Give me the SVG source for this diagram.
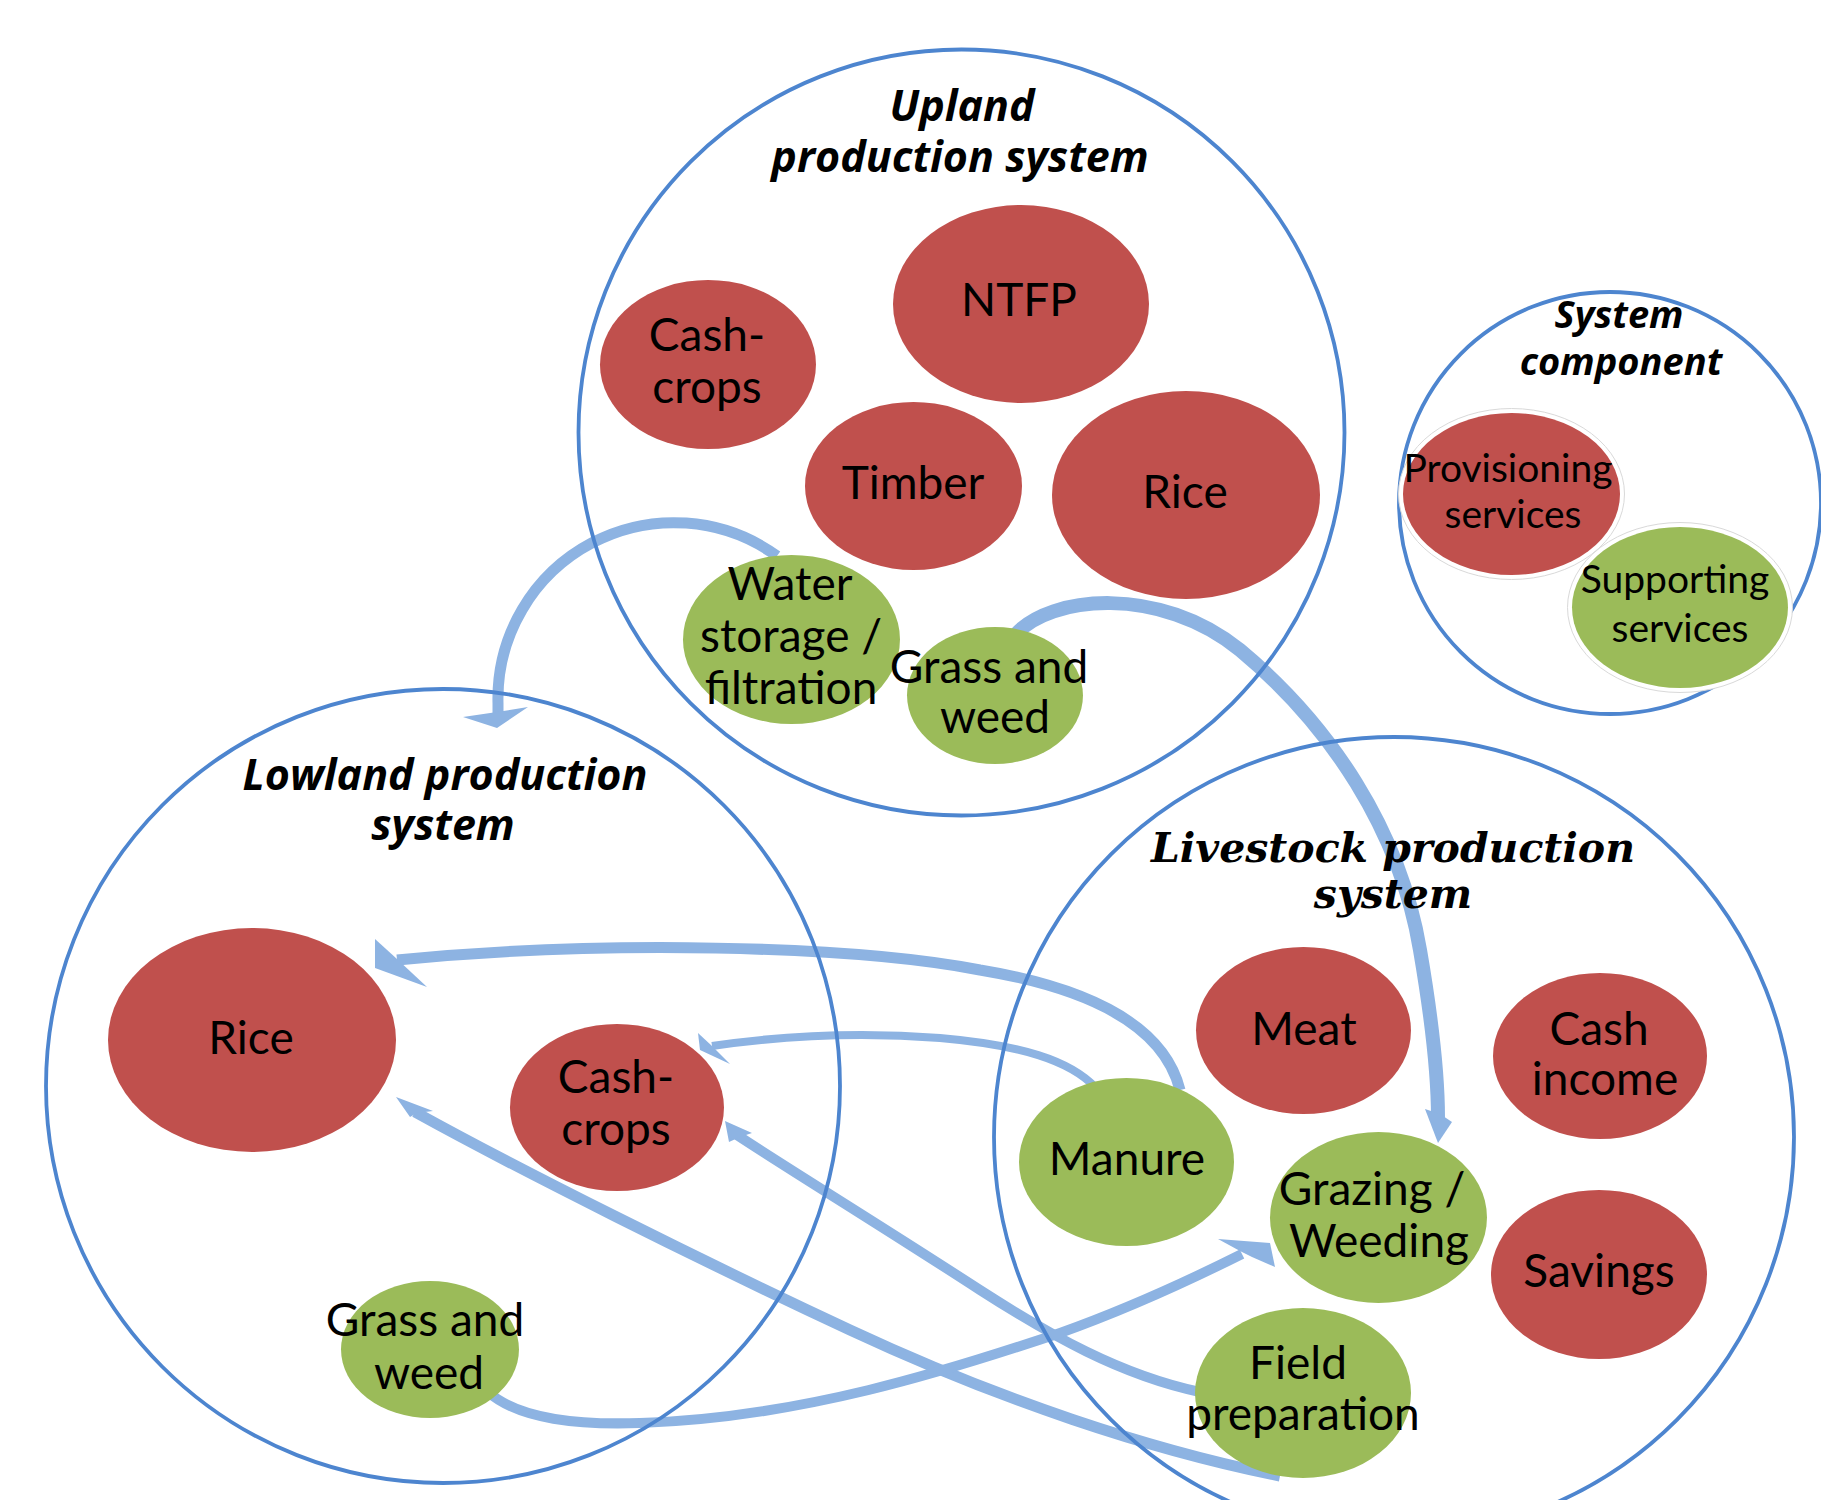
<svg xmlns="http://www.w3.org/2000/svg" width="1821" height="1500" viewBox="0 0 1821 1500">
<style>
.sys{fill:none;stroke:#4d85cf;stroke-width:3.8}
.red{fill:#c0504d}
.green{fill:#9bbb59}
.ring{fill:#fff;stroke:#d9d9d9;stroke-width:1}
.lbl{font-family:Lato,"Open Sans",sans-serif;font-size:46px;fill:#000;text-anchor:middle}
.lbls{font-family:Lato,"Open Sans",sans-serif;font-size:39px;fill:#000;text-anchor:middle}
.ttl{font-family:"Open Sans",Lato,sans-serif;font-weight:bold;font-style:italic;font-size:43px;fill:#000;text-anchor:middle}
.ttls{font-family:"Open Sans",Lato,sans-serif;font-weight:bold;font-style:italic;font-size:38px;fill:#000;text-anchor:middle}
.ttlserif{font-family:"DejaVu Serif","Liberation Serif",serif;font-weight:bold;font-style:italic;font-size:41px;fill:#000;text-anchor:middle}
.con{fill:none;stroke:#8db3e2;stroke-linecap:butt}
.head{fill:#8db3e2}
</style>
<rect width="1821" height="1500" fill="#fff"/>
<g id="connectors">
<path class="con" stroke-width="11" d="M777,556 A176,176 0 0 0 498,703 L498,714"/>
<polygon class="head" points="463,717 497,728 528,707 497,712"/>
<path class="con" stroke-width="14" d="M1015,635 C1050,595 1160,585 1240,650 C1330,725 1400,830 1420,950 C1432,1020 1438,1080 1438,1118"/>
<polygon class="head" points="1425,1109 1438,1143 1452,1122 1440,1114"/>
<path class="con" stroke-width="11" d="M1180,1090 C1165,1030 1100,990 980,970 C850,945 600,940 397,960"/>
<polygon class="head" points="375,939 375,968 427,987 397,959"/>
<path class="con" stroke-width="8" d="M1096,1088 C1070,1060 1020,1045 940,1038 C860,1032 780,1036 712,1046"/>
<polygon class="head" points="698,1033 700,1050 730,1064 712,1046"/>
<path class="con" stroke-width="10" d="M1200,1392 C1120,1375 1050,1335 980,1290 C880,1225 790,1170 737,1135"/>
<polygon class="head" points="725,1121 752,1133 740,1137 729,1142"/>
<path class="con" stroke-width="11" d="M1280,1476 C1150,1450 1000,1400 850,1330 C700,1260 520,1170 415,1112"/>
<polygon class="head" points="396,1097 433,1111 417,1113 410,1117"/>
<path class="con" stroke-width="10" d="M488,1392 C520,1420 580,1425 640,1423 C800,1418 950,1370 1060,1333 C1130,1308 1190,1280 1242,1254"/>
<polygon class="head" points="1218,1239 1270,1243 1275,1267 1252,1257 1240,1251"/>
</g>
<g id="systems">
<circle id="upland-system" class="sys" cx="961.5" cy="432.5" r="383"/>
<circle id="component-system" class="sys" cx="1610" cy="503" r="211"/>
<circle id="lowland-system" class="sys" cx="443" cy="1086" r="397"/>
<circle id="livestock-system" class="sys" cx="1394" cy="1137" r="400"/>
</g>
<g id="titles">
<text class="ttl" x="962" y="121">Upland</text>
<text class="ttl" x="960" y="172">production system</text>
<text class="ttls" x="1619" y="328">System</text>
<text class="ttls" x="1621" y="375">component</text>
<text class="ttl" x="445" y="790">Lowland production</text>
<text class="ttl" x="443" y="840">system</text>
</g>
<g id="upland-cashcrops"><ellipse class="red" cx="708" cy="364.5" rx="108" ry="84.5"/><text class="lbl" x="707" y="351">Cash-</text><text class="lbl" x="707" y="403">crops</text></g>
<g id="upland-ntfp"><ellipse class="red" cx="1021" cy="304" rx="128" ry="99"/><text class="lbl" x="1019" y="316">NTFP</text></g>
<g id="upland-timber"><ellipse class="red" cx="913.5" cy="486" rx="108.5" ry="84"/><text class="lbl" x="913" y="499">Timber</text></g>
<g id="upland-rice"><ellipse class="red" cx="1186" cy="495" rx="134" ry="104"/><text class="lbl" x="1185" y="508">Rice</text></g>
<g id="upland-water"><ellipse class="green" cx="791.5" cy="639.5" rx="108.5" ry="84.5"/><text class="lbl" x="790" y="600">Water</text><text class="lbl" x="791" y="652">storage /</text><text class="lbl" x="791" y="704">filtration</text></g>
<g id="upland-grass"><ellipse class="green" cx="995" cy="695.5" rx="88" ry="68.5"/><text class="lbl" x="989" y="683">Grass and</text><text class="lbl" x="995" y="733">weed</text></g>
<g id="provisioning"><ellipse class="ring" cx="1511.5" cy="494" rx="113" ry="85.5"/><ellipse class="red" cx="1511.5" cy="494" rx="108.5" ry="81"/><text class="lbls" x="1508" y="482">Provisioning</text><text class="lbls" x="1513" y="528">services</text></g>
<g id="supporting"><ellipse class="ring" cx="1680" cy="607.5" rx="112.5" ry="85"/><ellipse class="green" cx="1680" cy="607.5" rx="108" ry="80.5"/><text class="lbls" x="1675" y="593">Supporting</text><text class="lbls" x="1680" y="642">services</text></g>
<g id="lowland-rice"><ellipse class="red" cx="252" cy="1040" rx="144" ry="112"/><text class="lbl" x="251" y="1054">Rice</text></g>
<g id="lowland-cashcrops"><ellipse class="red" cx="617" cy="1107.5" rx="107" ry="83.5"/><text class="lbl" x="616" y="1093">Cash-</text><text class="lbl" x="616" y="1145">crops</text></g>
<g id="lowland-grass"><ellipse class="green" cx="430" cy="1349.5" rx="89" ry="68.5"/><text class="lbl" x="425" y="1336">Grass and</text><text class="lbl" x="429" y="1389">weed</text></g>
<g id="meat"><ellipse class="red" cx="1303.5" cy="1030.5" rx="107.5" ry="83.5"/><text class="lbl" x="1304" y="1045">Meat</text></g>
<g id="cash-income"><ellipse class="red" cx="1600" cy="1056" rx="107" ry="83"/><text class="lbl" x="1599" y="1045">Cash</text><text class="lbl" x="1605" y="1095">income</text></g>
<g id="manure"><ellipse class="green" cx="1126.5" cy="1162" rx="107.5" ry="84"/><text class="lbl" x="1127" y="1175">Manure</text></g>
<g id="grazing"><ellipse class="green" cx="1378.5" cy="1217.5" rx="108.5" ry="85.5"/><text class="lbl" x="1372" y="1205">Grazing /</text><text class="lbl" x="1379" y="1257">Weeding</text></g>
<g id="savings"><ellipse class="red" cx="1599" cy="1274.5" rx="108" ry="84.5"/><text class="lbl" x="1599" y="1287">Savings</text></g>
<g id="field-preparation"><ellipse class="green" cx="1303" cy="1393" rx="108" ry="85"/><text class="lbl" x="1298" y="1379">Field</text><text class="lbl" x="1303" y="1430">preparation</text></g>
<g id="livestock-title">
<text class="ttlserif" x="1393" y="862">Livestock production</text>
<text class="ttlserif" x="1393" y="908">system</text>
</g>
</svg>
